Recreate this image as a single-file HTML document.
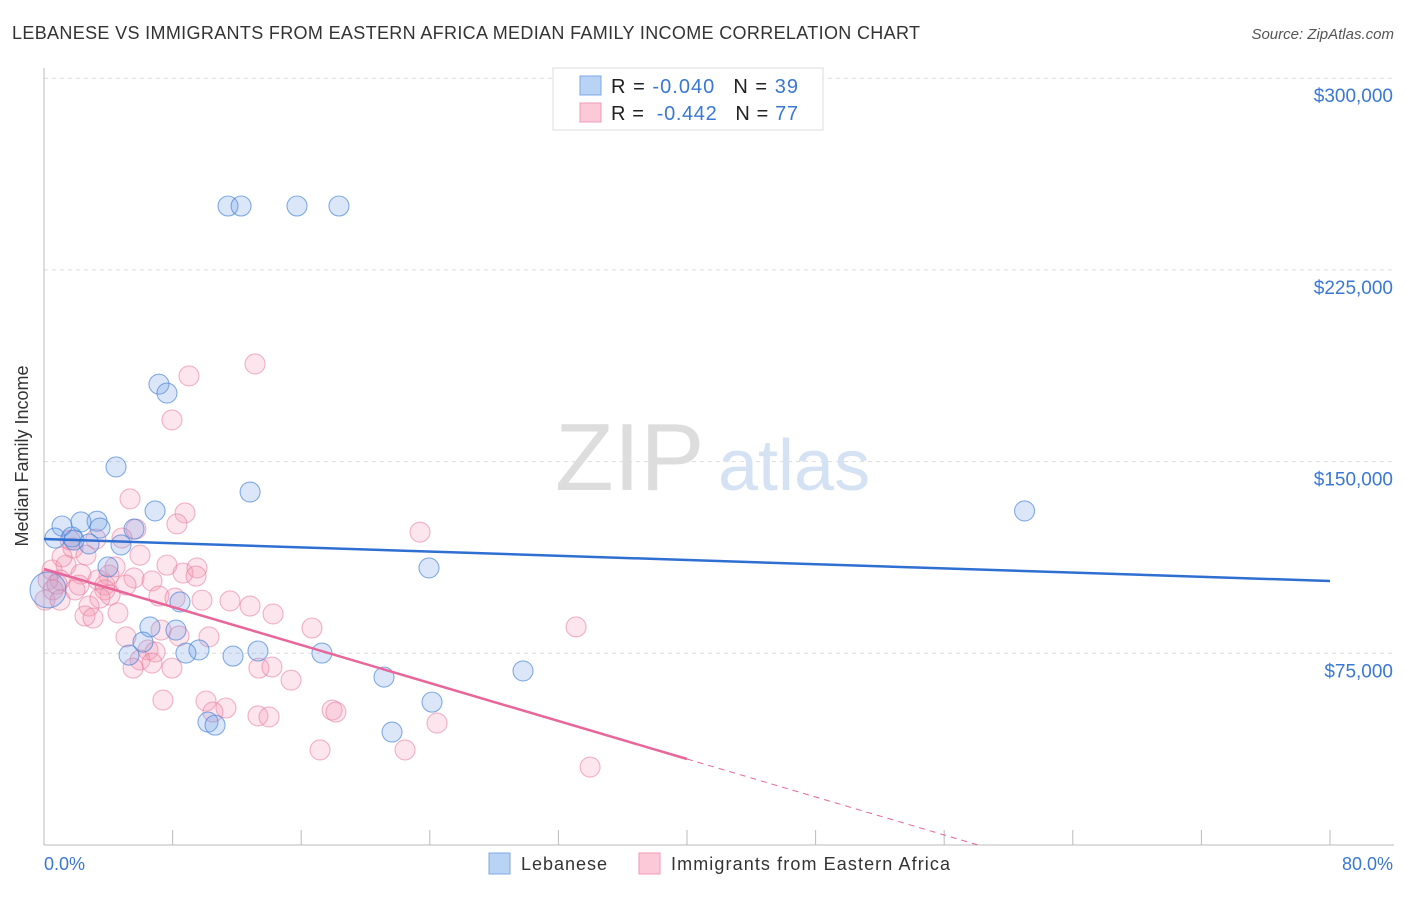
<!DOCTYPE html>
<html><head><meta charset="utf-8"><style>
body{margin:0;background:#fff;font-family:"Liberation Sans",sans-serif}
svg text{font-family:"Liberation Sans",sans-serif}
</style></head><body>
<svg width="1406" height="892" viewBox="0 0 1406 892" xmlns="http://www.w3.org/2000/svg">
<text x="12" y="39" font-size="18" fill="#333" textLength="908" lengthAdjust="spacing">LEBANESE VS IMMIGRANTS FROM EASTERN AFRICA MEDIAN FAMILY INCOME CORRELATION CHART</text>
<text x="1394" y="39" font-size="15" fill="#555" font-style="italic" text-anchor="end">Source: ZipAtlas.com</text>
<g id="grid"></g>
<g><text x="555" y="490" font-size="96" fill="#ddd" font-family="Liberation Serif">ZIP</text><text x="718" y="490" font-size="72" fill="#d4e2f4">atlas</text></g>
<line x1="44" y1="68" x2="44" y2="845" stroke="#bbb"/>
<line x1="44" y1="845" x2="1394" y2="845" stroke="#bbb"/>
<g id="ticks"></g>
<g id="pts"></g>
<g id="trend"></g>
<text x="28" y="456" font-size="18" fill="#333" text-anchor="middle" transform="rotate(-90 28 456)">Median Family Income</text>
<text x="44" y="870" font-size="18" fill="#3a78d4">0.0%</text>
<text x="1393" y="870" font-size="18" fill="#3a78d4" text-anchor="end">80.0%</text>
<g>
<rect x="553" y="68" width="270" height="62" fill="#fff" stroke="#ddd"/>
<rect x="580" y="76" width="21" height="19" fill="#b9d3f5" stroke="#7ea9e6"/>
<rect x="580" y="103" width="21" height="19" fill="#fbc9d8" stroke="#f09ab5"/>
<text x="611" y="93" font-size="20" fill="#222" textLength="187" lengthAdjust="spacing">R = <tspan fill="#3a78d4">-0.040</tspan><tspan dx="18">N = </tspan><tspan fill="#3a78d4">39</tspan></text>
<text x="611" y="120" font-size="20" fill="#222" textLength="187" lengthAdjust="spacing">R = <tspan fill="#3a78d4" dx="6">-0.442</tspan><tspan dx="18">N = </tspan><tspan fill="#3a78d4">77</tspan></text>
</g>
<g>
<rect x="489" y="853" width="21" height="21" fill="#b9d3f5" stroke="#7ea9e6"/>
<text x="521" y="870" font-size="18" fill="#333" textLength="86" lengthAdjust="spacing">Lebanese</text>
<rect x="639" y="853" width="21" height="21" fill="#fbc9d8" stroke="#f09ab5"/>
<text x="671" y="870" font-size="18" fill="#333" textLength="279" lengthAdjust="spacing">Immigrants from Eastern Africa</text>
</g>
</svg>
<script>
const yTicks=[75000,150000,225000,300000];
const yTickLabels=["$75,000","$150,000","$225,000","$300,000"];
const xTicks=[0,8,16,24,32,40,48,56,64,72,80];
const blueX=[11.45,12.26,15.74,18.35,7.15,7.65,4.48,12.82,6.91,61.0,1.12,3.30,2.30,3.48,5.60,0.68,1.74,2.80,4.79,3.98,23.95,0.25,6.59,8.21,8.46,6.16,9.64,8.83,5.29,13.31,11.76,17.29,21.15,29.80,24.14,10.20,10.64,21.65,1.87];
const blueY=[250,250,250,250,180.3,176.8,147.9,138.1,130.7,130.7,124.8,126.7,126.4,124.0,123.6,120.1,120.5,117.8,117.4,108.8,108.4,99.8,85.3,84.1,95.1,79.4,76.3,75.1,74.3,75.9,73.9,75.1,65.7,68.1,55.9,48.1,46.9,44.2,119.3];
const pinkX=[13.13,9.02,7.96,5.35,8.77,8.27,5.72,23.39,1.62,1.80,4.85,3.23,2.61,0.50,1.37,4.04,4.42,2.30,1.00,0.25,0.81,2.18,6.72,3.36,5.60,3.79,7.65,8.65,9.52,9.46,5.10,3.79,7.15,8.15,9.83,12.82,14.25,2.80,2.55,3.05,4.60,10.26,5.10,7.28,8.40,16.67,33.10,6.47,6.91,5.97,5.54,7.96,6.72,13.37,14.18,15.37,7.40,10.08,11.32,10.51,13.31,14.00,17.92,18.16,24.45,17.17,22.46,33.97,1.12,4.11,11.57,3.48,0.06,0.56,5.97,1.00,1.93];
const pinkY=[188.2,183.5,166.3,135.4,129.9,125.6,123.6,122.4,119.3,116.2,120.1,119.7,113.4,107.6,109.5,105.6,108.8,106.0,103.7,103.7,102.1,101.7,103.3,103.7,104.5,101.7,109.5,106.4,108.4,105.2,101.7,99.8,97.4,96.6,95.8,93.5,90.4,93.5,89.6,88.8,90.8,81.4,81.4,84.1,81.8,84.9,85.3,76.3,75.5,72.4,69.2,69.2,71.2,69.2,69.6,64.5,56.7,56.3,53.6,52.0,50.5,50.1,52.8,52.0,47.7,37.2,37.2,30.5,112.7,97.8,95.5,96.6,95.8,99.8,113.4,95.8,99.8];
const blueTrend=[119720,103290];
const pinkTrend=[107980,33650];
const NS="http://www.w3.org/2000/svg";
const X=v=>44+v*16.075;
const Y=v=>845-v/75000*191.7;
function mk(t,a,p){const e=document.createElementNS(NS,t);for(const k in a)e.setAttribute(k,a[k]);p.appendChild(e);return e;}
const grid=document.getElementById('grid');
yTicks.forEach((v,i)=>{
 const l=mk('line',{x1:44,x2:1394,y1:Y(v),y2:Y(v),stroke:'#ddd','stroke-dasharray':'4,4'},grid);
 
 
 const t=mk('text',{x:1393,y:Y(v)+24,'font-size':19,fill:'#3a78d4','text-anchor':'end'},grid);
 t.textContent=yTickLabels[i];
 
 
});
const ticks=document.getElementById('ticks');
xTicks.forEach(v=>{const l=mk('line',{x1:X(v),x2:X(v),y1:830,y2:845,stroke:'#bbb'},ticks);
 
 });
const pts=document.getElementById('pts');
pinkX.forEach((v,i)=>{const c=mk('circle',{cx:X(v),cy:Y(pinkY[i]*1000),r:10,fill:'rgba(244,150,180,0.25)',stroke:'rgba(232,120,155,0.55)','stroke-width':1.1},pts);
 
 });
blueX.forEach((v,i)=>{const big=(i===21);const c=mk('circle',{cx:X(v),cy:Y(blueY[i]*1000),r:big?18:10,fill:'rgba(110,160,230,0.25)',stroke:'rgba(70,130,215,0.65)','stroke-width':1.1},pts);
 
 });
const tr=document.getElementById('trend');
let b=mk('line',{x1:X(0),y1:Y(blueTrend[0]),x2:X(80),y2:Y(blueTrend[1]),stroke:'#2f6fd1','stroke-width':2.5},tr);


const slope=(pinkTrend[1]-pinkTrend[0])/40;
let p=mk('line',{x1:X(0),y1:Y(pinkTrend[0]),x2:X(40),y2:Y(pinkTrend[1]),stroke:'#e8669a','stroke-width':2.5},tr);


const xz=-pinkTrend[0]/slope;
let d=mk('line',{x1:X(40),y1:Y(pinkTrend[1]),x2:X(xz),y2:Y(0),stroke:'#e8669a','stroke-width':1,'stroke-dasharray':'6,5'},tr);


</script>
</body></html>
